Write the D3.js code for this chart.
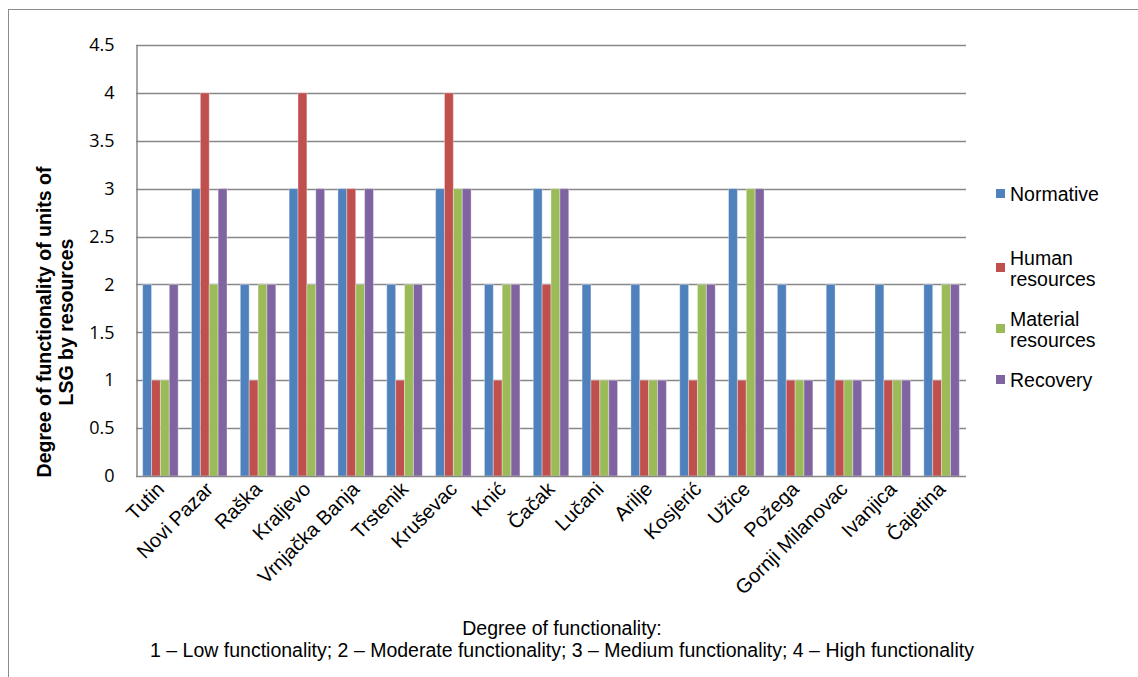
<!DOCTYPE html>
<html>
<head>
<meta charset="utf-8">
<script src="https://cdn.jsdelivr.net/npm/d3@7"></script>
<style>
  html, body { margin: 0; padding: 0; background: #fff; }
  svg { display: block; }
</style>
</head>
<body>
<svg id="chart" width="1138" height="677"></svg>
<script>
// Local self-government units (LSG)
const categories = ["Tutin", "Novi Pazar", "Raška", "Kraljevo", "Vrnjačka Banja", "Trstenik",
  "Kruševac", "Knić", "Čačak", "Lučani", "Arilje", "Kosjerić", "Užice", "Požega",
  "Gornji Milanovac", "Ivanjica", "Čajetina"];

// Degree of functionality per resource type
const normative = [2, 3, 2, 3, 3, 2, 3, 2, 3, 2, 2, 2, 3, 2, 2, 2, 2];
const human     = [1, 4, 1, 4, 3, 1, 4, 1, 2, 1, 1, 1, 1, 1, 1, 1, 1];
const material  = [1, 2, 2, 2, 2, 2, 3, 2, 3, 1, 1, 2, 3, 1, 1, 1, 2];
const recovery  = [2, 3, 2, 3, 3, 2, 3, 2, 3, 1, 1, 2, 3, 1, 1, 1, 2];

const seriesNames = ["Normative", "Human resources", "Material resources", "Recovery"];
const seriesLabels = [["Normative"], ["Human", "resources"], ["Material", "resources"], ["Recovery"]];
const seriesColors = ["#4F81BD", "#C0504D", "#9BBB59", "#8064A2"];
const yTicks = [0, 0.5, 1, 1.5, 2, 2.5, 3, 3.5, 4, 4.5];

const xTitleLines = ["Degree of functionality:",
  "1 – Low functionality; 2 – Moderate functionality; 3 – Medium functionality; 4 – High functionality"];
const yTitleLines = ["Degree of functionality of units of", "LSG by resources"];

const seriesValues = [normative, human, material, recovery];
const rows = categories.map((c, i) => ({
  name: c,
  values: seriesNames.map((s, k) => ({ series: s, k, value: seriesValues[k][i] }))
}));

const svg = d3.select("#chart");
const plot = { left: 136, right: 966, top: 45, bottom: 476 };
const sans = "'Liberation Sans', Arial, sans-serif";

// Outer chart frame
svg.append("rect")
  .attr("x", 8.5).attr("y", 9.5)
  .attr("width", 1140).attr("height", 680)
  .attr("fill", "#fff").attr("stroke", "#8c8c8c").attr("stroke-width", 1);

const gap = 1.5 / 5.5;
const x = d3.scaleBand().domain(categories)
  .range([plot.left, plot.right])
  .paddingInner(gap).paddingOuter(gap / 2);
const xs = d3.scaleBand().domain(seriesNames).range([0, x.bandwidth()]);
const y = d3.scaleLinear().domain([0, 4.5]).range([plot.bottom, plot.top]);

// Horizontal gridlines
svg.append("g")
  .selectAll("line").data(yTicks.filter(t => t > 0)).join("line")
  .attr("x1", plot.left).attr("x2", plot.right)
  .attr("y1", d => Math.round(y(d)) + 0.5).attr("y2", d => Math.round(y(d)) + 0.5)
  .attr("stroke", "#878787").attr("stroke-width", 1.5);

// Bars
const groups = svg.append("g").selectAll("g").data(rows).join("g")
  .attr("transform", d => `translate(${x(d.name)},0)`);
groups.selectAll("rect").data(d => d.values).join("rect")
  .attr("x", d => xs(d.series))
  .attr("y", d => y(d.value))
  .attr("width", xs.bandwidth())
  .attr("height", d => y(0) - y(d.value))
  .attr("fill", d => seriesColors[d.k])
  .attr("stroke", "rgba(255,255,255,0.35)")
  .attr("stroke-width", 1);

// Y axis
const yAxis = svg.append("g")
  .attr("transform", `translate(${plot.left + 0.5},0)`)
  .call(d3.axisLeft(y).tickValues(yTicks).tickSize(0).tickPadding(22)
    .tickFormat(d => String(d)));
yAxis.select(".domain").attr("stroke", "#878787").attr("stroke-width", 1.5);
yAxis.selectAll("text")
  .attr("font-family", "'Open Sans', 'Noto Sans', sans-serif")
  .attr("font-size", 18).attr("fill", "#000");

// X axis
const xAxis = svg.append("g")
  .attr("transform", `translate(0,${plot.bottom + 0.5})`)
  .call(d3.axisBottom(x).tickSize(0).tickPadding(0));
xAxis.select(".domain").attr("stroke", "#878787").attr("stroke-width", 1.5)
  .attr("d", `M${plot.left},0H${plot.right}`);
xAxis.selectAll("text")
  .attr("font-family", sans)
  .attr("font-size", 20).attr("fill", "#000")
  .attr("text-anchor", "end")
  .attr("dy", 0)
  .attr("transform", "translate(5,14) rotate(-45)");

// Y axis title
const yTitle = svg.append("text")
  .attr("transform", "translate(51,322) rotate(-90)")
  .attr("text-anchor", "middle")
  .attr("font-family", sans)
  .attr("font-weight", "bold").attr("font-size", 19.5).attr("fill", "#000");
yTitle.selectAll("tspan").data(yTitleLines).join("tspan")
  .attr("x", 0).attr("dy", (d, i) => i === 0 ? 0 : 22)
  .text(d => d);

// X axis title
const xTitle = svg.append("text")
  .attr("text-anchor", "middle")
  .attr("font-family", sans)
  .attr("font-size", 19.5).attr("fill", "#000");
xTitle.selectAll("tspan").data(xTitleLines).join("tspan")
  .attr("x", 562).attr("y", (d, i) => 635 + i * 22)
  .text(d => d);

// Legend
const legendY = [194, 268, 329, 380];
const legend = svg.append("g").selectAll("g").data(seriesNames).join("g")
  .attr("transform", (d, i) => `translate(996,${legendY[i]})`);
legend.append("rect")
  .attr("x", 0).attr("y", -5).attr("width", 9).attr("height", 9)
  .attr("fill", (d, i) => seriesColors[i]);
legend.append("text")
  .attr("font-family", sans)
  .attr("font-size", 19.5).attr("fill", "#000")
  .selectAll("tspan").data((d, i) => seriesLabels[i].map((t, j) => ({ t, j, n: seriesLabels[i].length })))
  .join("tspan")
  .attr("x", 14)
  .attr("y", d => (d.n === 1 ? 7 : -3 + d.j * 21))
  .text(d => d.t);
</script>
</body>
</html>
